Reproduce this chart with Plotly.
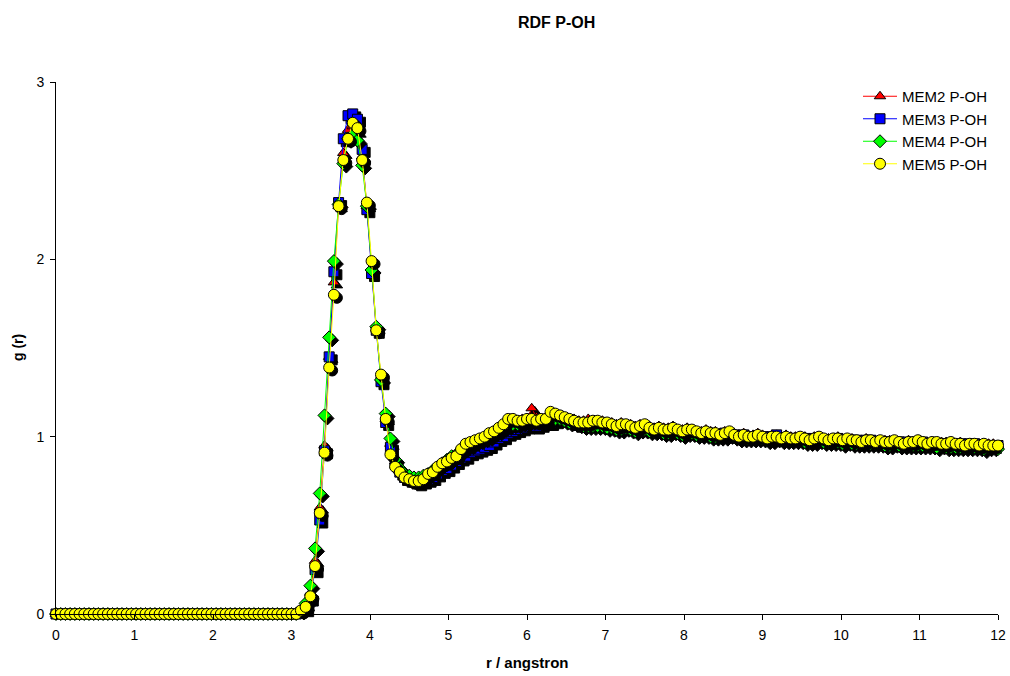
import numpy as np
import plotly.graph_objects as go

# r grid (angstrom), 0.06 spacing from 0 to 12
r = np.round(np.linspace(0.0, 12.0, 201), 2)

# g(r) is zero below contact distance (r = 0.00 .. 3.00)
below_contact = [
    0.0, 0.0, 0.0, 0.0, 0.0, 0.0, 0.0, 0.0, 0.0, 0.0,
    0.0, 0.0, 0.0, 0.0, 0.0, 0.0, 0.0, 0.0, 0.0, 0.0,
    0.0, 0.0, 0.0, 0.0, 0.0, 0.0, 0.0, 0.0, 0.0, 0.0,
    0.0, 0.0, 0.0, 0.0, 0.0, 0.0, 0.0, 0.0, 0.0, 0.0,
    0.0, 0.0, 0.0, 0.0, 0.0, 0.0, 0.0, 0.0, 0.0, 0.0,
    0.0,
]

# first shell and first minimum (r = 3.06 .. 6.36)
mem2_shell = [
    0.00, 0.02, 0.05, 0.12, 0.30, 0.60, 0.95, 1.45, 1.87, 2.30,
    2.60, 2.73, 2.75, 2.72, 2.58, 2.30, 1.95, 1.61, 1.33, 1.10,
    0.96, 0.86, 0.81, 0.78, 0.77, 0.76, 0.76, 0.77, 0.79, 0.80,
    0.82, 0.85, 0.86, 0.88, 0.90, 0.94, 0.95, 0.96, 0.98, 0.99,
    1.00, 1.01, 1.03, 1.04, 1.06, 1.08, 1.08, 1.09, 1.10, 1.10,
    1.16, 1.11, 1.10, 1.11, 1.12, 1.11,
]
mem3_shell = [
    0.00, 0.01, 0.03, 0.09, 0.25, 0.53, 0.92, 1.45, 1.93, 2.32,
    2.68, 2.81, 2.82, 2.79, 2.62, 2.28, 1.92, 1.60, 1.31, 1.08,
    0.94, 0.85, 0.80, 0.77, 0.76, 0.75, 0.74, 0.75, 0.76, 0.77,
    0.79, 0.81, 0.82, 0.84, 0.86, 0.88, 0.89, 0.91, 0.92, 0.93,
    0.94, 0.95, 0.97, 0.99, 1.00, 1.02, 1.03, 1.04, 1.05, 1.06,
    1.07, 1.06, 1.07, 1.08, 1.08, 1.09,
]
mem4_shell = [
    0.00, 0.02, 0.06, 0.16, 0.37, 0.68, 1.12, 1.56, 1.99, 2.31,
    2.54, 2.68, 2.70, 2.67, 2.53, 2.30, 1.94, 1.62, 1.32, 1.13,
    0.99, 0.87, 0.82, 0.79, 0.78, 0.77, 0.77, 0.78, 0.79, 0.81,
    0.83, 0.85, 0.87, 0.89, 0.90, 0.92, 0.94, 0.95, 0.97, 0.98,
    0.99, 1.00, 1.02, 1.03, 1.05, 1.06, 1.07, 1.07, 1.08, 1.08,
    1.09, 1.09, 1.09, 1.09, 1.10, 1.10,
]
mem5_shell = [
    0.00, 0.02, 0.04, 0.10, 0.27, 0.57, 0.91, 1.39, 1.80, 2.30,
    2.56, 2.68, 2.77, 2.74, 2.56, 2.32, 1.99, 1.60, 1.35, 1.10,
    0.90, 0.83, 0.80, 0.77, 0.76, 0.75, 0.75, 0.76, 0.79, 0.80,
    0.83, 0.85, 0.86, 0.88, 0.89, 0.93, 0.96, 0.97, 0.98, 0.99,
    1.00, 1.02, 1.03, 1.05, 1.07, 1.10, 1.10, 1.09, 1.09, 1.10,
    1.10, 1.09, 1.10, 1.10, 1.14, 1.13,
]

# long-range tail (r = 6.42 .. 12.00)
mem2_tail = [
    1.12, 1.11, 1.10, 1.10, 1.09, 1.09, 1.10, 1.09, 1.09, 1.09,
    1.08, 1.08, 1.07, 1.08, 1.07, 1.07, 1.06, 1.07, 1.07, 1.06,
    1.05, 1.06, 1.05, 1.05, 1.06, 1.04, 1.04, 1.05, 1.04, 1.03,
    1.03, 1.04, 1.03, 1.03, 1.02, 1.03, 1.03, 1.02, 1.01, 1.02,
    1.01, 1.01, 1.02, 1.01, 1.00, 1.01, 1.01, 1.00, 1.01, 1.00,
    1.00, 1.00, 1.00, 0.99, 1.00, 1.00, 0.99, 0.99, 0.99, 1.00,
    0.99, 0.99, 0.99, 0.98, 0.98, 0.99, 0.98, 0.98, 0.98, 0.98,
    0.98, 0.98, 0.97, 0.97, 0.98, 0.97, 0.98, 0.97, 0.97, 0.97,
    0.97, 0.97, 0.97, 0.97, 0.96, 0.97, 0.96, 0.96, 0.96, 0.96,
    0.96, 0.96, 0.96, 0.95,
]
mem3_tail = [
    1.10, 1.10, 1.09, 1.08, 1.07, 1.07, 1.07, 1.08, 1.07, 1.07,
    1.06, 1.06, 1.05, 1.06, 1.06, 1.05, 1.05, 1.05, 1.06, 1.04,
    1.04, 1.04, 1.03, 1.04, 1.04, 1.03, 1.03, 1.03, 1.03, 1.02,
    1.02, 1.02, 1.02, 1.01, 1.01, 1.02, 1.02, 1.01, 1.00, 1.01,
    1.00, 1.00, 1.00, 1.00, 0.99, 1.00, 1.01, 0.99, 0.99, 0.99,
    0.99, 0.99, 0.99, 0.98, 0.99, 0.99, 0.98, 0.98, 0.98, 0.99,
    0.98, 0.98, 0.98, 0.98, 0.97, 0.98, 0.98, 0.97, 0.97, 0.97,
    0.97, 0.97, 0.97, 0.97, 0.96, 0.97, 0.97, 0.97, 0.96, 0.96,
    0.96, 0.96, 0.96, 0.96, 0.96, 0.96, 0.95, 0.96, 0.96, 0.95,
    0.95, 0.95, 0.95, 0.95,
]
mem4_tail = [
    1.10, 1.09, 1.08, 1.08, 1.07, 1.06, 1.06, 1.06, 1.06, 1.06,
    1.05, 1.05, 1.04, 1.04, 1.05, 1.04, 1.03, 1.04, 1.04, 1.03,
    1.03, 1.03, 1.02, 1.02, 1.03, 1.02, 1.01, 1.02, 1.02, 1.01,
    1.01, 1.01, 1.00, 1.00, 1.00, 1.00, 1.01, 1.00, 0.99, 0.99,
    0.99, 0.99, 0.99, 0.99, 0.98, 0.98, 0.99, 0.98, 0.98, 0.98,
    0.98, 0.98, 0.97, 0.97, 0.97, 0.98, 0.97, 0.97, 0.97, 0.97,
    0.96, 0.97, 0.96, 0.96, 0.96, 0.96, 0.96, 0.96, 0.96, 0.95,
    0.95, 0.96, 0.95, 0.95, 0.95, 0.95, 0.95, 0.95, 0.95, 0.95,
    0.94, 0.95, 0.94, 0.94, 0.94, 0.94, 0.94, 0.94, 0.94, 0.94,
    0.93, 0.94, 0.94, 0.93,
]
mem5_tail = [
    1.12, 1.11, 1.10, 1.09, 1.08, 1.08, 1.08, 1.09, 1.09, 1.08,
    1.08, 1.07, 1.06, 1.07, 1.07, 1.06, 1.05, 1.06, 1.07, 1.05,
    1.04, 1.05, 1.04, 1.04, 1.05, 1.04, 1.03, 1.04, 1.04, 1.03,
    1.02, 1.03, 1.02, 1.02, 1.01, 1.02, 1.03, 1.01, 1.00, 1.01,
    1.00, 1.00, 1.01, 1.00, 0.99, 1.00, 1.00, 0.99, 1.00, 0.99,
    0.99, 1.00, 0.99, 0.98, 0.99, 1.00, 0.99, 0.98, 0.99, 0.99,
    0.98, 0.99, 0.98, 0.98, 0.97, 0.98, 0.98, 0.97, 0.98, 0.97,
    0.97, 0.98, 0.97, 0.96, 0.97, 0.97, 0.98, 0.97, 0.96, 0.97,
    0.97, 0.96, 0.96, 0.97, 0.96, 0.96, 0.95, 0.96, 0.96, 0.95,
    0.96, 0.95, 0.95, 0.95,
]

series_names = ["MEM2 P-OH", "MEM3 P-OH", "MEM4 P-OH", "MEM5 P-OH"]
series_values = [
    below_contact + mem2_shell + mem2_tail,
    below_contact + mem3_shell + mem3_tail,
    below_contact + mem4_shell + mem4_tail,
    below_contact + mem5_shell + mem5_tail,
]
series_colors = ["#FF0000", "#0000FF", "#00FF00", "#FFFF00"]
series_symbols = ["triangle-up", "square", "diamond", "circle"]
series_sizes = [10, 10, 10, 11]

x_ticks = list(range(0, 13))
y_ticks = [0, 1, 2, 3]

# figure geometry (pixels)
W, H = 1010, 676
M_L, M_R, M_T, M_B = 56, 12, 82, 62
plot_w = W - M_L - M_R
plot_h = H - M_T - M_B
X_RANGE = [0, 12]
Y_RANGE = [0, 3]

# drop shadow offset: 3 px right, 3 px down, converted to data units
SHADOW_PX = 3
dx = SHADOW_PX * (X_RANGE[1] - X_RANGE[0]) / plot_w
dy = SHADOW_PX * (Y_RANGE[1] - Y_RANGE[0]) / plot_h

FONT = "Liberation Sans, Arial, sans-serif"

fig = go.Figure()
for name, vals, col, sym, size in zip(series_names, series_values,
                                       series_colors, series_symbols, series_sizes):
    y = np.array(vals)
    fig.add_trace(go.Scatter(
        x=r + dx, y=y - dy, mode="markers", showlegend=False, hoverinfo="skip",
        marker=dict(symbol=sym, size=size, color="black",
                    line=dict(color="black", width=1)),
        cliponaxis=False,
    ))
    fig.add_trace(go.Scatter(
        x=r, y=y, mode="lines+markers", name=name,
        line=dict(color=col, width=1),
        marker=dict(symbol=sym, size=size, color=col,
                    line=dict(color="black", width=1)),
        cliponaxis=False,
    ))

fig.update_layout(
    width=W, height=H,
    margin=dict(l=M_L, r=M_R, t=M_T, b=M_B, autoexpand=False),
    paper_bgcolor="white", plot_bgcolor="white",
    font=dict(family=FONT, size=14, color="black"),
    showlegend=True,
    legend=dict(
        x=(858 - M_L) / plot_w, y=1.0 - (80 - M_T) / plot_h,
        xanchor="left", yanchor="top",
        bgcolor="rgba(255,255,255,0)", borderwidth=0,
        font=dict(family=FONT, size=15, color="black"),
        itemwidth=34, tracegroupgap=0,
    ),
    xaxis=dict(
        range=X_RANGE, tickmode="array", tickvals=x_ticks,
        ticktext=[str(t) for t in x_ticks], automargin=False,
        showgrid=False, zeroline=False,
        showline=True, linecolor="black", linewidth=1,
        ticks="outside", ticklen=5, tickcolor="black",
        tickfont=dict(family=FONT, size=14), ticklabelstandoff=3,
    ),
    yaxis=dict(
        range=Y_RANGE, tickmode="array", tickvals=y_ticks,
        ticktext=[str(t) for t in y_ticks], automargin=False,
        showgrid=False, zeroline=False,
        showline=True, linecolor="black", linewidth=1,
        ticks="outside", ticklen=5, tickcolor="black",
        tickfont=dict(family=FONT, size=14), ticklabelstandoff=3,
    ),
    annotations=[
        dict(text="<b>RDF P-OH</b>", xref="paper", yref="paper",
             x=(556 - M_L) / plot_w, y=1 + (M_T - 22) / plot_h,
             showarrow=False, font=dict(family=FONT, size=16),
             xanchor="center", yanchor="middle"),
        dict(text="<b>r / angstron</b>", xref="paper", yref="paper",
             x=(527 - M_L) / plot_w, y=-(662 - (M_T + plot_h)) / plot_h,
             showarrow=False, font=dict(family=FONT, size=15),
             xanchor="center", yanchor="middle"),
        dict(text="<b>g (r)</b>", xref="paper", yref="paper",
             x=-(M_L - 18) / plot_w, y=0.5, textangle=-90,
             showarrow=False, font=dict(family=FONT, size=14),
             xanchor="center", yanchor="middle"),
    ],
)

fig.write_html("out.html")
